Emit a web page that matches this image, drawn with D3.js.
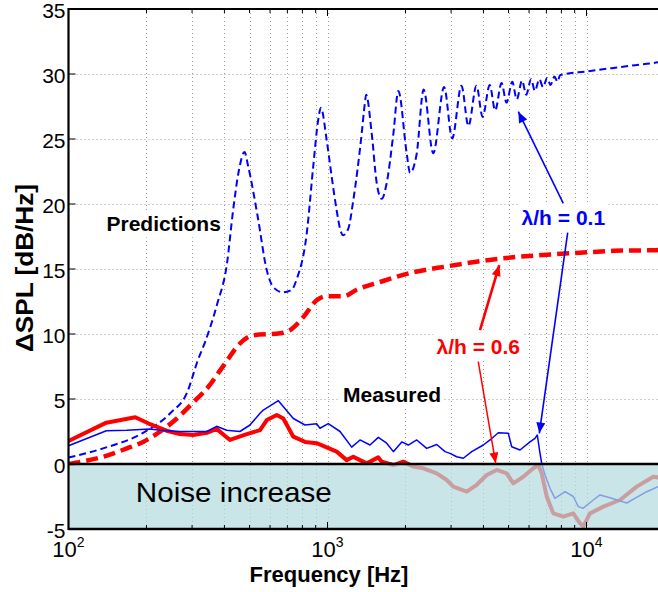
<!DOCTYPE html>
<html>
<head>
<meta charset="utf-8">
<script src="https://cdn.jsdelivr.net/npm/d3@7"></script>
<style>
  body { margin: 0; background: #fff; }
  svg { display: block; font-family: "Liberation Sans", Arial, Helvetica, sans-serif; }
</style>
</head>
<body>
<svg id="chart" width="658" height="592"></svg>
<script>
// ---- axis ticks ----
const yTickValues = [-5, 0, 5, 10, 15, 20, 25, 30, 35];
const xMajorTicks = [100, 1000, 10000];
const xTickExponents = ["2", "3", "4"];

// ---- predictions (dB/Hz vs Hz) ----
const predBlueFreq = [100, 136, 194, 247, 287, 316, 337, 375, 409, 432, 455, 478, 494, 538, 583, 618, 673, 727, 760, 831, 881, 921, 943, 993, 1038, 1085, 1118, 1148, 1203, 1258, 1355, 1393, 1410, 1482, 1549, 1619, 1692, 1796, 1877, 2022, 2083, 2211, 2350, 2560, 2820, 3030, 3290, 3500, 3760, 3970, 4230, 4440, 4700, 4910, 5170, 5380, 5640, 5850, 6110, 6320, 6580, 6790, 7050, 7260, 7520, 7730, 7900, 10000, 12500, 15000, 18900, 20000];
const predBlueDb = [0.5, 1.2, 2.4, 3.9, 5.5, 8.0, 9.4, 12.3, 15.4, 19.5, 22.6, 24.0, 22.9, 19.0, 14.9, 13.6, 13.2, 13.4, 14.2, 17.7, 22.9, 26.5, 27.4, 24.9, 22.1, 19.5, 18.1, 17.6, 18.1, 20.3, 25.4, 27.7, 28.4, 25.4, 21.6, 20.4, 21.6, 25.4, 28.7, 23.9, 22.4, 23.9, 28.8, 23.9, 29.0, 25.05, 29.1, 26.0, 29.1, 26.7, 29.15, 27.2, 29.3, 27.8, 29.4, 28.05, 29.5, 28.4, 29.6, 28.7, 29.6, 29.0, 29.7, 29.15, 29.8, 29.4, 29.9, 30.2, 30.45, 30.65, 30.9, 31.0];

const predRedFreq = [100, 136, 168, 194, 226, 262, 302, 352, 385, 408, 446, 517, 656, 717, 807, 908, 993, 1151, 1296, 1595, 2145, 2886, 3880, 5215, 7020, 9439, 12690, 18660, 20000];
const predRedDb = [0.0, 0.56, 1.2, 1.7, 2.5, 3.5, 4.7, 6.1, 7.2, 7.9, 9.0, 9.9, 10.05, 10.3, 11.3, 12.6, 12.9, 12.9, 13.4, 14.0, 14.75, 15.2, 15.6, 15.9, 16.1, 16.25, 16.4, 16.45, 16.5];

// ---- measurements (dB/Hz vs Hz) ----
const measBlueFreq = [100, 140, 168, 206, 226, 269, 342, 373, 408, 459, 502, 549, 565, 646, 738, 819, 908, 935, 1007, 1118, 1240, 1335, 1459, 1571, 1692, 1796, 1935, 2051, 2211, 2416, 2641, 2843, 2972, 3153, 3344, 3605, 3995, 4241, 4565, 4990, 5143, 5536, 6052, 6327, 6457, 6615, 6714, 6915, 7229, 7556, 8260, 8892, 9297, 9719, 10624, 11276, 12323, 14298, 17085, 18884, 20000];
const measBlueDb = [1.4, 2.56, 2.6, 2.7, 2.6, 2.5, 2.5, 2.9, 2.6, 2.5, 3.0, 3.9, 4.15, 4.87, 3.5, 3.0, 3.1, 2.75, 3.1, 2.5, 1.3, 1.85, 1.46, 2.05, 1.6, 0.95, 1.7, 1.46, 1.85, 1.2, 1.5, 0.95, 0.82, 0.56, 0.44, 0.95, 1.46, 1.85, 2.4, 2.36, 1.33, 1.08, 1.7, 1.97, 2.23, 0.82, 0.05, -0.85, -1.87, -2.64, -2.13, -2.5, -3.28, -3.4, -2.77, -2.38, -2.6, -3.0, -2.13, -1.75, -1.6];

const measRedFreq = [100, 140, 181, 203, 239, 269, 303, 342, 373, 420, 488, 549, 583, 637, 675, 738, 819, 908, 993, 1085, 1186, 1258, 1335, 1417, 1571, 1619, 1796, 1962, 2145, 2344, 2641, 2886, 3059, 3447, 3768, 4119, 4501, 4920, 5217, 5702, 6230, 6516, 6714, 7021, 7443, 8136, 8892, 9439, 9719, 10316, 11612, 13469, 15622, 18114, 20000];
const measRedDb = [1.77, 3.18, 3.6, 3.13, 2.56, 2.3, 2.23, 2.4, 2.7, 1.85, 2.3, 2.6, 3.38, 3.77, 3.5, 2.1, 1.7, 1.6, 1.28, 0.95, 0.3, 0.56, 0.3, 0.05, 0.51, 0.18, -0.08, 0.18, -0.2, -0.33, -0.72, -1.23, -1.74, -2.13, -1.6, -0.85, -0.46, -0.72, -1.49, -0.98, -0.33, -0.08, -0.72, -2.5, -3.8, -4.05, -3.8, -4.56, -4.8, -3.8, -3.28, -2.77, -1.74, -0.98, -1.1];

// ---- scales ----
const svg = d3.select("#chart");
const x = d3.scaleLog().domain([100, 20000]).range([68.5, 68.5 + 259 * Math.log10(200)]);
const y = d3.scaleLinear().domain([-5, 35]).range([529, 9]);
const xMin = x(100), xMax = x(20000);

const zip = (fs, vs) => fs.map((f, i) => [f, vs[i]]);

// ---- grid ----
const grid = svg.append("g");
grid.selectAll("line.v").data(x.ticks().filter(f => f > 100)).join("line")
  .attr("x1", d => Math.round(x(d)) + 0.5).attr("x2", d => Math.round(x(d)) + 0.5)
  .attr("y1", y(35)).attr("y2", y(-5))
  .attr("stroke", "#9c9c9c").attr("stroke-width", 1).attr("stroke-dasharray", "1,3");
grid.selectAll("line.h").data(yTickValues.filter(v => v > 0 && v < 35)).join("line")
  .attr("x1", xMin).attr("x2", xMax)
  .attr("y1", d => Math.round(y(d)) + 0.5).attr("y2", d => Math.round(y(d)) + 0.5)
  .attr("stroke", "#9c9c9c").attr("stroke-width", 1).attr("stroke-dasharray", "1,3");

// ---- curves ----
const smooth = d3.line().x(d => x(d[0])).y(d => y(d[1])).curve(d3.curveMonotoneX);
const jagged = d3.line().x(d => x(d[0])).y(d => y(d[1]));
const curves = svg.append("g");
curves.append("path").datum(zip(predBlueFreq, predBlueDb)).attr("d", smooth)
  .attr("fill", "none").attr("stroke", "#0000ff").attr("stroke-width", 2).attr("stroke-dasharray", "7,4");
curves.append("path").datum(zip(predRedFreq, predRedDb)).attr("d", smooth)
  .attr("fill", "none").attr("stroke", "#ff0000").attr("stroke-width", 4.5).attr("stroke-dasharray", "12,6");
curves.append("path").datum(zip(measRedFreq, measRedDb)).attr("d", jagged)
  .attr("fill", "none").attr("stroke", "#ff0000").attr("stroke-width", 4).attr("stroke-linejoin", "round");
curves.append("path").datum(zip(measBlueFreq, measBlueDb)).attr("d", jagged)
  .attr("fill", "none").attr("stroke", "#0000ff").attr("stroke-width", 1.5).attr("stroke-linejoin", "round");

// ---- noise-increase band (translucent, below 0 dB) ----
svg.append("rect")
  .attr("x", xMin).attr("y", y(0)).attr("width", xMax - xMin).attr("height", y(-5) - y(0))
  .attr("fill", "#b6dbde").attr("fill-opacity", 0.72);
svg.append("line").attr("x1", xMin).attr("x2", xMax).attr("y1", y(0)).attr("y2", y(0))
  .attr("stroke", "#000").attr("stroke-width", 2.6);
svg.append("text").attr("x", x(182)).attr("y", y(-2.9))
  .attr("font-size", 28).attr("fill", "#000")
  .attr("textLength", 196).attr("lengthAdjust", "spacingAndGlyphs")
  .text("Noise increase");

// ---- axes frame and ticks ----
const frame = svg.append("g").attr("stroke", "#000");
frame.append("line").attr("x1", xMin).attr("x2", xMin).attr("y1", y(35) - 1).attr("y2", y(-5) + 1).attr("stroke-width", 2.2);
frame.append("line").attr("x1", xMin).attr("x2", xMax).attr("y1", y(35)).attr("y2", y(35)).attr("stroke-width", 2.2);
frame.append("line").attr("x1", xMin).attr("x2", xMax).attr("y1", y(-5)).attr("y2", y(-5)).attr("stroke-width", 2.6);

const allX = x.ticks();
frame.selectAll("line.tb").data(allX).join("line")
  .attr("x1", d => x(d)).attr("x2", d => x(d))
  .attr("y1", y(-5)).attr("y2", d => y(-5) - (xMajorTicks.includes(d) ? 7 : 4)).attr("stroke-width", 1);
frame.selectAll("line.tt").data(allX).join("line")
  .attr("x1", d => x(d)).attr("x2", d => x(d))
  .attr("y1", y(35)).attr("y2", d => y(35) + (xMajorTicks.includes(d) ? 7 : 4)).attr("stroke-width", 1);
frame.selectAll("line.ty").data(yTickValues).join("line")
  .attr("x1", xMin).attr("x2", xMin + 7)
  .attr("y1", d => y(d)).attr("y2", d => y(d)).attr("stroke-width", 1);

// tick labels
svg.append("g").selectAll("text").data(yTickValues).join("text")
  .attr("x", xMin - 3).attr("y", d => y(d)).attr("dy", "0.42em")
  .attr("text-anchor", "end").attr("font-size", 21).attr("fill", "#000")
  .text(d => d);
const xl = svg.append("g").selectAll("text").data(xMajorTicks).join("text")
  .attr("x", d => x(d)).attr("y", 557).attr("text-anchor", "middle")
  .attr("font-size", 22).attr("fill", "#000");
xl.append("tspan").text("10");
xl.append("tspan").attr("dy", -10).attr("font-size", 14).text((d, i) => xTickExponents[i]);

// axis titles
svg.append("text").attr("x", 329).attr("y", 582).attr("text-anchor", "middle")
  .attr("font-size", 22).attr("font-weight", "bold").text("Frequency [Hz]");
svg.append("text").attr("transform", "translate(33,268) rotate(-90)").attr("text-anchor", "middle")
  .attr("font-size", 23).attr("font-weight", "bold")
  .attr("textLength", 168).attr("lengthAdjust", "spacingAndGlyphs")
  .text("ΔSPL [dB/Hz]");

// ---- annotations ----
const defs = svg.append("defs");
[["blue", "#0000ff"], ["red", "#ff0000"]].forEach(([id, c]) => {
  defs.append("marker").attr("id", "head-" + id)
    .attr("viewBox", "0 0 12 10").attr("refX", 12).attr("refY", 5)
    .attr("markerWidth", 12).attr("markerHeight", 9).attr("markerUnits", "userSpaceOnUse")
    .attr("orient", "auto")
    .append("path").attr("d", "M0,0 L12,5 L0,10 Z").attr("fill", c);
});

const annot = svg.append("g");
function label(txt, f, v, color) {
  const g = annot.append("g");
  const t = g.append("text").attr("x", x(f)).attr("y", y(v)).attr("text-anchor", "middle")
    .attr("font-size", 21).attr("font-weight", "bold").attr("fill", color).text(txt);
  const b = t.node().getBBox();
  g.insert("rect", "text").attr("x", b.x - 3).attr("y", b.y - 2)
    .attr("width", b.width + 6).attr("height", b.height + 4).attr("fill", "#fff");
}
function arrow(f0, v0, f1, v1, color, id, w) {
  annot.append("line").attr("x1", x(f0)).attr("y1", y(v0)).attr("x2", x(f1)).attr("y2", y(v1))
    .attr("stroke", color).attr("stroke-width", w).attr("marker-end", "url(#head-" + id + ")");
}

label("Predictions", 233, 17.9, "#000");
label("Measured", 1775, 4.8, "#000");
label("λ/h = 0.1", 8140, 18.4, "#0000ff");
label("λ/h = 0.6", 3820, 8.5, "#ff0000");

arrow(8136, 20.05, 5455, 27.1, "#0000ff", "blue", 1.6);
arrow(8460, 17.8, 6574, 2.36, "#0000ff", "blue", 1.6);
arrow(3880, 10.3, 4606, 15.3, "#ff0000", "red", 2.6);
arrow(3820, 7.87, 4461, 0.05, "#ff0000", "red", 1.5);
</script>
</body>
</html>
